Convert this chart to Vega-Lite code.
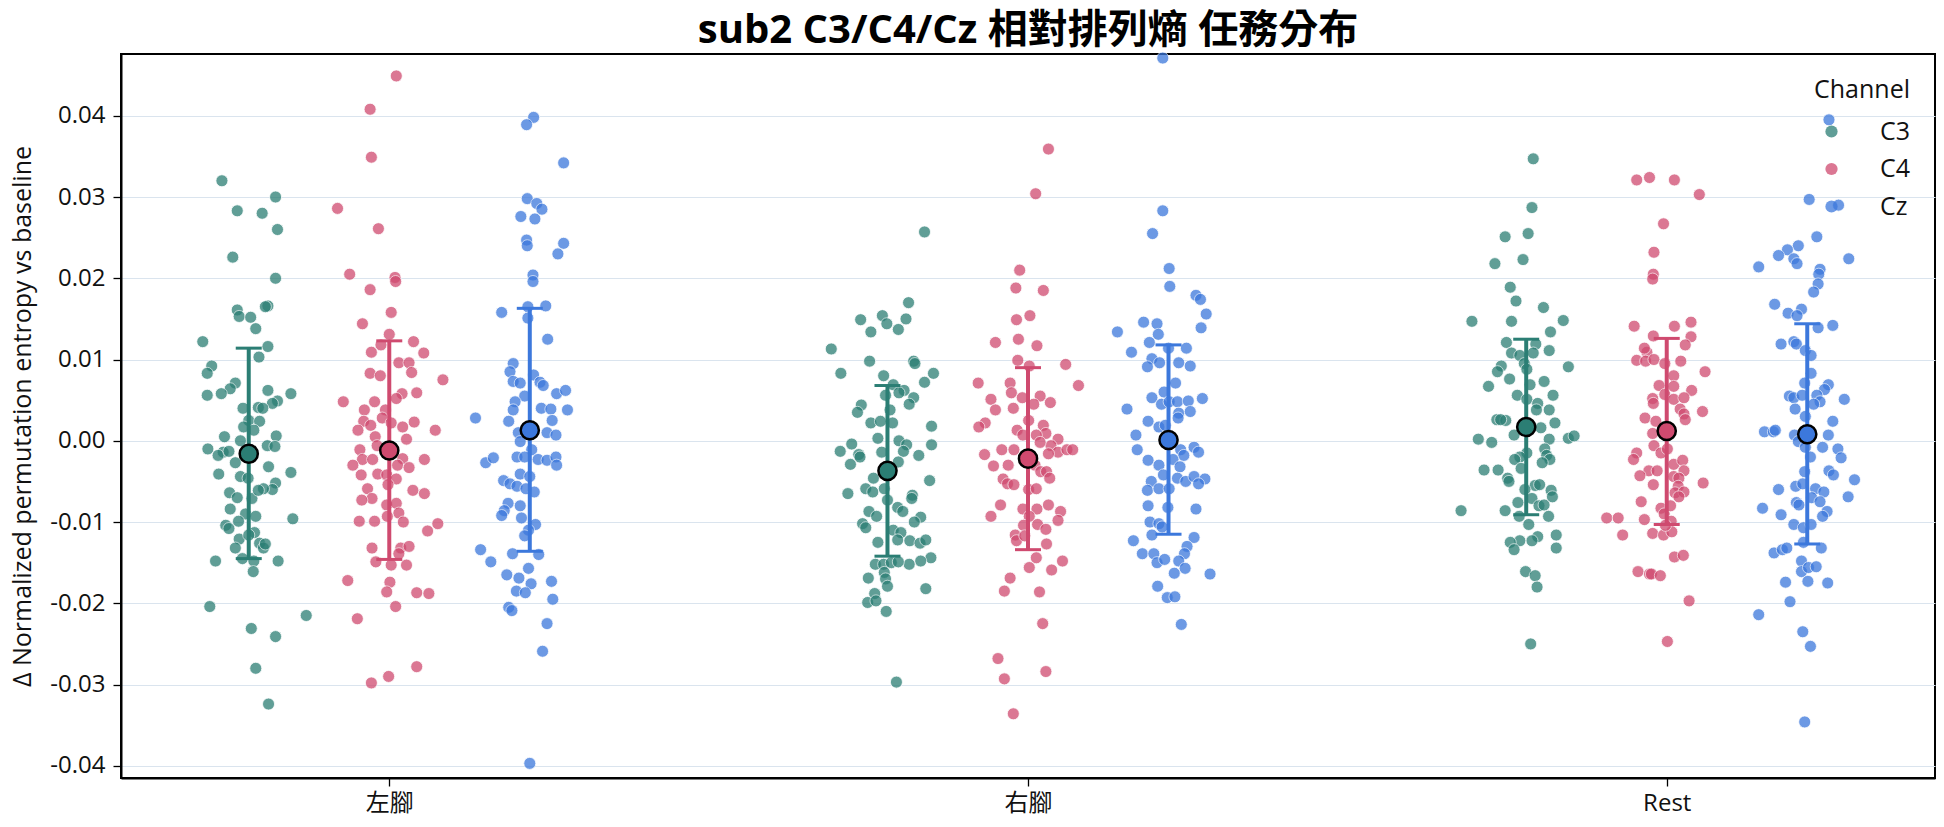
{
  "$schema": "https://vega.github.io/schema/vega-lite/v6.json",
  "autosize": {"type": "none"},
  "padding": {"left": 121, "top": 54, "right": 9, "bottom": 49},
  "width": 1814,
  "height": 724,
  "background": "white",
  "title": {
    "text": "sub2 C3/C4/Cz 相對排列熵 任務分布",
    "fontSize": 40,
    "fontWeight": "bold",
    "font": "Open Sans, Noto Sans CJK TC, sans-serif",
    "color": "#000000",
    "anchor": "middle",
    "frame": "group",
    "offset": 10,
    "dy": 11
  },
  "datasets": {
    "points": [
      {"task":"左腳","channel":"C3","value":0.0320,"jitter":-0.042},{"task":"左腳","channel":"C3","value":0.0283,"jitter":-0.018},{"task":"左腳","channel":"C3","value":0.0280,"jitter":0.021},{"task":"左腳","channel":"C3","value":0.0300,"jitter":0.042},{"task":"左腳","channel":"C3","value":0.0260,"jitter":0.045},{"task":"左腳","channel":"C3","value":0.0226,"jitter":-0.025},{"task":"左腳","channel":"C3","value":0.0200,"jitter":0.042},{"task":"左腳","channel":"C3","value":0.0166,"jitter":0.030},{"task":"左腳","channel":"C3","value":0.0165,"jitter":0.026},{"task":"左腳","channel":"C3","value":0.0161,"jitter":-0.018},{"task":"左腳","channel":"C3","value":0.0153,"jitter":-0.015},{"task":"左腳","channel":"C3","value":0.0152,"jitter":0.003},{"task":"左腳","channel":"C3","value":0.0138,"jitter":0.011},{"task":"左腳","channel":"C3","value":0.0122,"jitter":-0.072},{"task":"左腳","channel":"C3","value":0.0116,"jitter":0.030},{"task":"左腳","channel":"C3","value":0.0103,"jitter":0.016},{"task":"左腳","channel":"C3","value":0.0092,"jitter":-0.058},{"task":"左腳","channel":"C3","value":0.0083,"jitter":-0.065},{"task":"左腳","channel":"C3","value":0.0071,"jitter":-0.021},{"task":"左腳","channel":"C3","value":0.0064,"jitter":-0.029},{"task":"左腳","channel":"C3","value":0.0056,"jitter":-0.065},{"task":"左腳","channel":"C3","value":0.0058,"jitter":-0.043},{"task":"左腳","channel":"C3","value":0.0062,"jitter":0.030},{"task":"左腳","channel":"C3","value":0.0058,"jitter":0.066},{"task":"左腳","channel":"C3","value":0.0049,"jitter":0.045},{"task":"左腳","channel":"C3","value":0.0046,"jitter":0.037},{"task":"左腳","channel":"C3","value":0.0040,"jitter":-0.009},{"task":"左腳","channel":"C3","value":0.0041,"jitter":0.015},{"task":"左腳","channel":"C3","value":0.0040,"jitter":0.022},{"task":"左腳","channel":"C3","value":0.0025,"jitter":0.000},{"task":"左腳","channel":"C3","value":0.0024,"jitter":0.017},{"task":"左腳","channel":"C3","value":0.0017,"jitter":-0.008},{"task":"左腳","channel":"C3","value":0.0013,"jitter":0.008},{"task":"左腳","channel":"C3","value":0.0005,"jitter":-0.038},{"task":"左腳","channel":"C3","value":0.0000,"jitter":-0.013},{"task":"左腳","channel":"C3","value":0.0006,"jitter":0.043},{"task":"左腳","channel":"C3","value":-0.0010,"jitter":-0.064},{"task":"左腳","channel":"C3","value":-0.0014,"jitter":-0.040},{"task":"左腳","channel":"C3","value":-0.0018,"jitter":-0.048},{"task":"左腳","channel":"C3","value":-0.0013,"jitter":-0.031},{"task":"左腳","channel":"C3","value":-0.0006,"jitter":0.029},{"task":"左腳","channel":"C3","value":-0.0007,"jitter":0.041},{"task":"左腳","channel":"C3","value":-0.0027,"jitter":-0.021},{"task":"左腳","channel":"C3","value":-0.0032,"jitter":0.031},{"task":"左腳","channel":"C3","value":-0.0039,"jitter":0.066},{"task":"左腳","channel":"C3","value":-0.0041,"jitter":-0.047},{"task":"左腳","channel":"C3","value":-0.0044,"jitter":-0.013},{"task":"左腳","channel":"C3","value":-0.0046,"jitter":-0.001},{"task":"左腳","channel":"C3","value":-0.0052,"jitter":0.042},{"task":"左腳","channel":"C3","value":-0.0060,"jitter":0.037},{"task":"左腳","channel":"C3","value":-0.0059,"jitter":0.023},{"task":"左腳","channel":"C3","value":-0.0064,"jitter":-0.030},{"task":"左腳","channel":"C3","value":-0.0070,"jitter":-0.018},{"task":"左腳","channel":"C3","value":-0.0071,"jitter":0.005},{"task":"左腳","channel":"C3","value":-0.0061,"jitter":0.015},{"task":"左腳","channel":"C3","value":-0.0084,"jitter":-0.029},{"task":"左腳","channel":"C3","value":-0.0090,"jitter":-0.005},{"task":"左腳","channel":"C3","value":-0.0093,"jitter":0.011},{"task":"左腳","channel":"C3","value":-0.0099,"jitter":-0.016},{"task":"左腳","channel":"C3","value":-0.0096,"jitter":0.069},{"task":"左腳","channel":"C3","value":-0.0104,"jitter":-0.036},{"task":"左腳","channel":"C3","value":-0.0108,"jitter":-0.031},{"task":"左腳","channel":"C3","value":-0.0121,"jitter":-0.015},{"task":"左腳","channel":"C3","value":-0.0113,"jitter":0.009},{"task":"左腳","channel":"C3","value":-0.0132,"jitter":-0.021},{"task":"左腳","channel":"C3","value":-0.0126,"jitter":0.017},{"task":"左腳","channel":"C3","value":-0.0132,"jitter":0.023},{"task":"左腳","channel":"C3","value":-0.0148,"jitter":-0.052},{"task":"左腳","channel":"C3","value":-0.0145,"jitter":-0.010},{"task":"左腳","channel":"C3","value":-0.0148,"jitter":0.008},{"task":"左腳","channel":"C3","value":-0.0148,"jitter":0.046},{"task":"左腳","channel":"C3","value":-0.0161,"jitter":0.007},{"task":"左腳","channel":"C3","value":-0.0204,"jitter":-0.061},{"task":"左腳","channel":"C3","value":-0.0215,"jitter":0.090},{"task":"左腳","channel":"C3","value":-0.0231,"jitter":0.004},{"task":"左腳","channel":"C3","value":-0.0241,"jitter":0.042},{"task":"左腳","channel":"C3","value":-0.0280,"jitter":0.011},{"task":"左腳","channel":"C3","value":-0.0324,"jitter":0.031},{"task":"左腳","channel":"C3","value":-0.0116,"jitter":0.000},{"task":"左腳","channel":"C3","value":-0.0018,"jitter":0.004},{"task":"左腳","channel":"C3","value":-0.0127,"jitter":0.026},
      {"task":"左腳","channel":"C4","value":0.0449,"jitter":0.011},{"task":"左腳","channel":"C4","value":0.0408,"jitter":-0.030},{"task":"左腳","channel":"C4","value":0.0349,"jitter":-0.028},{"task":"左腳","channel":"C4","value":0.0286,"jitter":-0.081},{"task":"左腳","channel":"C4","value":0.0261,"jitter":-0.017},{"task":"左腳","channel":"C4","value":0.0205,"jitter":-0.062},{"task":"左腳","channel":"C4","value":0.0201,"jitter":0.009},{"task":"左腳","channel":"C4","value":0.0196,"jitter":0.010},{"task":"左腳","channel":"C4","value":0.0186,"jitter":-0.030},{"task":"左腳","channel":"C4","value":0.0158,"jitter":0.003},{"task":"左腳","channel":"C4","value":0.0144,"jitter":-0.042},{"task":"左腳","channel":"C4","value":0.0131,"jitter":0.000},{"task":"左腳","channel":"C4","value":0.0118,"jitter":-0.013},{"task":"左腳","channel":"C4","value":0.0122,"jitter":0.038},{"task":"左腳","channel":"C4","value":0.0108,"jitter":0.054},{"task":"左腳","channel":"C4","value":0.0109,"jitter":-0.028},{"task":"左腳","channel":"C4","value":0.0096,"jitter":0.015},{"task":"左腳","channel":"C4","value":0.0096,"jitter":0.031},{"task":"左腳","channel":"C4","value":0.0083,"jitter":-0.030},{"task":"左腳","channel":"C4","value":0.0080,"jitter":-0.014},{"task":"左腳","channel":"C4","value":0.0084,"jitter":0.035},{"task":"左腳","channel":"C4","value":0.0075,"jitter":0.084},{"task":"左腳","channel":"C4","value":0.0058,"jitter":0.020},{"task":"左腳","channel":"C4","value":0.0059,"jitter":0.043},{"task":"左腳","channel":"C4","value":0.0048,"jitter":-0.023},{"task":"左腳","channel":"C4","value":0.0048,"jitter":-0.072},{"task":"左腳","channel":"C4","value":0.0052,"jitter":0.011},{"task":"左腳","channel":"C4","value":0.0038,"jitter":-0.039},{"task":"左腳","channel":"C4","value":0.0038,"jitter":-0.006},{"task":"左腳","channel":"C4","value":0.0024,"jitter":-0.040},{"task":"左腳","channel":"C4","value":0.0028,"jitter":-0.011},{"task":"左腳","channel":"C4","value":0.0022,"jitter":0.003},{"task":"左腳","channel":"C4","value":0.0017,"jitter":0.021},{"task":"左腳","channel":"C4","value":0.0023,"jitter":0.039},{"task":"左腳","channel":"C4","value":0.0013,"jitter":-0.049},{"task":"左腳","channel":"C4","value":0.0019,"jitter":-0.029},{"task":"左腳","channel":"C4","value":0.0013,"jitter":0.072},{"task":"左腳","channel":"C4","value":0.0005,"jitter":-0.022},{"task":"左腳","channel":"C4","value":0.0002,"jitter":0.027},{"task":"左腳","channel":"C4","value":-0.0006,"jitter":-0.019},{"task":"左腳","channel":"C4","value":-0.0011,"jitter":-0.046},{"task":"左腳","channel":"C4","value":-0.0023,"jitter":-0.042},{"task":"左腳","channel":"C4","value":-0.0023,"jitter":-0.026},{"task":"左腳","channel":"C4","value":-0.0030,"jitter":-0.057},{"task":"左腳","channel":"C4","value":-0.0022,"jitter":0.021},{"task":"左腳","channel":"C4","value":-0.0023,"jitter":0.055},{"task":"左腳","channel":"C4","value":-0.0030,"jitter":0.013},{"task":"左腳","channel":"C4","value":-0.0033,"jitter":0.031},{"task":"左腳","channel":"C4","value":-0.0042,"jitter":-0.044},{"task":"左腳","channel":"C4","value":-0.0041,"jitter":-0.018},{"task":"左腳","channel":"C4","value":-0.0042,"jitter":-0.004},{"task":"左腳","channel":"C4","value":-0.0047,"jitter":0.011},{"task":"左腳","channel":"C4","value":-0.0054,"jitter":-0.002},{"task":"左腳","channel":"C4","value":-0.0059,"jitter":-0.034},{"task":"左腳","channel":"C4","value":-0.0061,"jitter":0.037},{"task":"左腳","channel":"C4","value":-0.0065,"jitter":0.055},{"task":"左腳","channel":"C4","value":-0.0071,"jitter":-0.027},{"task":"左腳","channel":"C4","value":-0.0073,"jitter":-0.043},{"task":"左腳","channel":"C4","value":-0.0079,"jitter":-0.004},{"task":"左腳","channel":"C4","value":-0.0077,"jitter":0.011},{"task":"左腳","channel":"C4","value":-0.0089,"jitter":0.015},{"task":"左腳","channel":"C4","value":-0.0093,"jitter":-0.003},{"task":"左腳","channel":"C4","value":-0.0099,"jitter":-0.047},{"task":"左腳","channel":"C4","value":-0.0099,"jitter":-0.023},{"task":"左腳","channel":"C4","value":-0.0100,"jitter":0.022},{"task":"左腳","channel":"C4","value":-0.0102,"jitter":0.076},{"task":"左腳","channel":"C4","value":-0.0111,"jitter":0.060},{"task":"左腳","channel":"C4","value":-0.0132,"jitter":-0.027},{"task":"左腳","channel":"C4","value":-0.0132,"jitter":0.018},{"task":"左腳","channel":"C4","value":-0.0130,"jitter":0.031},{"task":"左腳","channel":"C4","value":-0.0149,"jitter":-0.021},{"task":"左腳","channel":"C4","value":-0.0153,"jitter":0.003},{"task":"左腳","channel":"C4","value":-0.0153,"jitter":0.027},{"task":"左腳","channel":"C4","value":-0.0139,"jitter":0.015},{"task":"左腳","channel":"C4","value":-0.0172,"jitter":-0.065},{"task":"左腳","channel":"C4","value":-0.0174,"jitter":0.001},{"task":"左腳","channel":"C4","value":-0.0186,"jitter":-0.004},{"task":"左腳","channel":"C4","value":-0.0187,"jitter":0.043},{"task":"左腳","channel":"C4","value":-0.0188,"jitter":0.062},{"task":"左腳","channel":"C4","value":-0.0204,"jitter":0.010},{"task":"左腳","channel":"C4","value":-0.0219,"jitter":-0.050},{"task":"左腳","channel":"C4","value":-0.0278,"jitter":0.043},{"task":"左腳","channel":"C4","value":-0.0290,"jitter":-0.001},{"task":"左腳","channel":"C4","value":-0.0298,"jitter":-0.028},
      {"task":"左腳","channel":"Cz","value":0.0398,"jitter":0.006},{"task":"左腳","channel":"Cz","value":0.0389,"jitter":-0.005},{"task":"左腳","channel":"Cz","value":0.0342,"jitter":0.053},{"task":"左腳","channel":"Cz","value":0.0298,"jitter":-0.004},{"task":"左腳","channel":"Cz","value":0.0292,"jitter":0.011},{"task":"左腳","channel":"Cz","value":0.0285,"jitter":0.019},{"task":"左腳","channel":"Cz","value":0.0276,"jitter":-0.014},{"task":"左腳","channel":"Cz","value":0.0273,"jitter":0.008},{"task":"左腳","channel":"Cz","value":0.0247,"jitter":-0.005},{"task":"左腳","channel":"Cz","value":0.0240,"jitter":-0.004},{"task":"左腳","channel":"Cz","value":0.0243,"jitter":0.053},{"task":"左腳","channel":"Cz","value":0.0230,"jitter":0.044},{"task":"左腳","channel":"Cz","value":0.0204,"jitter":0.005},{"task":"左腳","channel":"Cz","value":0.0196,"jitter":0.005},{"task":"左腳","channel":"Cz","value":0.0165,"jitter":-0.003},{"task":"左腳","channel":"Cz","value":0.0166,"jitter":0.025},{"task":"左腳","channel":"Cz","value":0.0158,"jitter":-0.044},{"task":"左腳","channel":"Cz","value":0.0151,"jitter":-0.003},{"task":"左腳","channel":"Cz","value":0.0125,"jitter":0.028},{"task":"左腳","channel":"Cz","value":0.0095,"jitter":-0.026},{"task":"左腳","channel":"Cz","value":0.0085,"jitter":-0.031},{"task":"左腳","channel":"Cz","value":0.0073,"jitter":-0.026},{"task":"左腳","channel":"Cz","value":0.0071,"jitter":-0.015},{"task":"左腳","channel":"Cz","value":0.0081,"jitter":0.006},{"task":"左腳","channel":"Cz","value":0.0072,"jitter":0.016},{"task":"左腳","channel":"Cz","value":0.0068,"jitter":0.021},{"task":"左腳","channel":"Cz","value":0.0058,"jitter":0.042},{"task":"左腳","channel":"Cz","value":0.0062,"jitter":0.056},{"task":"左腳","channel":"Cz","value":0.0038,"jitter":0.059},{"task":"左腳","channel":"Cz","value":0.0055,"jitter":-0.008},{"task":"左腳","channel":"Cz","value":0.0048,"jitter":-0.023},{"task":"左腳","channel":"Cz","value":0.0038,"jitter":-0.026},{"task":"左腳","channel":"Cz","value":0.0024,"jitter":-0.033},{"task":"左腳","channel":"Cz","value":0.0040,"jitter":0.018},{"task":"左腳","channel":"Cz","value":0.0039,"jitter":0.033},{"task":"左腳","channel":"Cz","value":0.0025,"jitter":0.035},{"task":"左腳","channel":"Cz","value":0.0028,"jitter":-0.085},{"task":"左腳","channel":"Cz","value":0.0010,"jitter":-0.018},{"task":"左腳","channel":"Cz","value":0.0010,"jitter":0.027},{"task":"左腳","channel":"Cz","value":0.0007,"jitter":0.041},{"task":"左腳","channel":"Cz","value":-0.0001,"jitter":-0.015},{"task":"左腳","channel":"Cz","value":-0.0011,"jitter":0.003},{"task":"左腳","channel":"Cz","value":-0.0020,"jitter":-0.020},{"task":"左腳","channel":"Cz","value":-0.0020,"jitter":-0.008},{"task":"左腳","channel":"Cz","value":-0.0023,"jitter":0.013},{"task":"左腳","channel":"Cz","value":-0.0024,"jitter":0.027},{"task":"左腳","channel":"Cz","value":-0.0020,"jitter":0.041},{"task":"左腳","channel":"Cz","value":-0.0030,"jitter":0.042},{"task":"左腳","channel":"Cz","value":-0.0027,"jitter":-0.069},{"task":"左腳","channel":"Cz","value":-0.0021,"jitter":-0.057},{"task":"左腳","channel":"Cz","value":-0.0041,"jitter":-0.015},{"task":"左腳","channel":"Cz","value":-0.0044,"jitter":0.000},{"task":"左腳","channel":"Cz","value":-0.0049,"jitter":-0.041},{"task":"左腳","channel":"Cz","value":-0.0053,"jitter":-0.031},{"task":"左腳","channel":"Cz","value":-0.0056,"jitter":-0.020},{"task":"左腳","channel":"Cz","value":-0.0059,"jitter":-0.006},{"task":"左腳","channel":"Cz","value":-0.0063,"jitter":0.007},{"task":"左腳","channel":"Cz","value":-0.0080,"jitter":-0.015},{"task":"左腳","channel":"Cz","value":-0.0077,"jitter":-0.034},{"task":"左腳","channel":"Cz","value":-0.0086,"jitter":-0.040},{"task":"左腳","channel":"Cz","value":-0.0092,"jitter":-0.044},{"task":"左腳","channel":"Cz","value":-0.0095,"jitter":-0.013},{"task":"左腳","channel":"Cz","value":-0.0103,"jitter":0.009},{"task":"左腳","channel":"Cz","value":-0.0110,"jitter":-0.002},{"task":"左腳","channel":"Cz","value":-0.0117,"jitter":-0.008},{"task":"左腳","channel":"Cz","value":-0.0134,"jitter":-0.077},{"task":"左腳","channel":"Cz","value":-0.0149,"jitter":-0.061},{"task":"左腳","channel":"Cz","value":-0.0139,"jitter":-0.027},{"task":"左腳","channel":"Cz","value":-0.0140,"jitter":0.014},{"task":"左腳","channel":"Cz","value":-0.0165,"jitter":-0.036},{"task":"左腳","channel":"Cz","value":-0.0169,"jitter":-0.017},{"task":"左腳","channel":"Cz","value":-0.0157,"jitter":-0.002},{"task":"左腳","channel":"Cz","value":-0.0176,"jitter":0.002},{"task":"左腳","channel":"Cz","value":-0.0173,"jitter":0.034},{"task":"左腳","channel":"Cz","value":-0.0185,"jitter":-0.021},{"task":"左腳","channel":"Cz","value":-0.0187,"jitter":-0.007},{"task":"左腳","channel":"Cz","value":-0.0195,"jitter":0.036},{"task":"左腳","channel":"Cz","value":-0.0205,"jitter":-0.033},{"task":"左腳","channel":"Cz","value":-0.0209,"jitter":-0.028},{"task":"左腳","channel":"Cz","value":-0.0225,"jitter":0.027},{"task":"左腳","channel":"Cz","value":-0.0259,"jitter":0.020},{"task":"左腳","channel":"Cz","value":-0.0397,"jitter":0.000},
      {"task":"右腳","channel":"C3","value":0.0257,"jitter":0.058},{"task":"右腳","channel":"C3","value":0.0170,"jitter":0.033},{"task":"右腳","channel":"C3","value":0.0149,"jitter":-0.042},{"task":"右腳","channel":"C3","value":0.0154,"jitter":-0.008},{"task":"右腳","channel":"C3","value":0.0144,"jitter":-0.001},{"task":"右腳","channel":"C3","value":0.0150,"jitter":0.029},{"task":"右腳","channel":"C3","value":0.0134,"jitter":-0.026},{"task":"右腳","channel":"C3","value":0.0137,"jitter":0.017},{"task":"右腳","channel":"C3","value":0.0113,"jitter":-0.088},{"task":"右腳","channel":"C3","value":0.0098,"jitter":-0.028},{"task":"右腳","channel":"C3","value":0.0098,"jitter":0.041},{"task":"右腳","channel":"C3","value":0.0095,"jitter":0.043},{"task":"右腳","channel":"C3","value":0.0083,"jitter":-0.073},{"task":"右腳","channel":"C3","value":0.0083,"jitter":0.072},{"task":"右腳","channel":"C3","value":0.0072,"jitter":0.058},{"task":"右腳","channel":"C3","value":0.0080,"jitter":-0.006},{"task":"右腳","channel":"C3","value":0.0069,"jitter":0.009},{"task":"右腳","channel":"C3","value":0.0062,"jitter":0.026},{"task":"右腳","channel":"C3","value":0.0059,"jitter":0.018},{"task":"右腳","channel":"C3","value":0.0053,"jitter":0.041},{"task":"右腳","channel":"C3","value":0.0056,"jitter":-0.003},{"task":"右腳","channel":"C3","value":0.0045,"jitter":0.034},{"task":"右腳","channel":"C3","value":0.0044,"jitter":-0.041},{"task":"右腳","channel":"C3","value":0.0035,"jitter":-0.047},{"task":"右腳","channel":"C3","value":0.0038,"jitter":0.004},{"task":"右腳","channel":"C3","value":0.0022,"jitter":-0.026},{"task":"右腳","channel":"C3","value":0.0024,"jitter":-0.011},{"task":"右腳","channel":"C3","value":0.0022,"jitter":0.008},{"task":"右腳","channel":"C3","value":0.0018,"jitter":0.069},{"task":"右腳","channel":"C3","value":0.0003,"jitter":-0.015},{"task":"右腳","channel":"C3","value":0.0000,"jitter":0.018},{"task":"右腳","channel":"C3","value":-0.0005,"jitter":0.069},{"task":"右腳","channel":"C3","value":-0.0004,"jitter":-0.056},{"task":"右腳","channel":"C3","value":-0.0013,"jitter":-0.074},{"task":"右腳","channel":"C3","value":-0.0017,"jitter":-0.045},{"task":"右腳","channel":"C3","value":-0.0005,"jitter":0.030},{"task":"右腳","channel":"C3","value":-0.0013,"jitter":0.025},{"task":"右腳","channel":"C3","value":-0.0029,"jitter":-0.058},{"task":"右腳","channel":"C3","value":-0.0020,"jitter":-0.043},{"task":"右腳","channel":"C3","value":-0.0014,"jitter":-0.009},{"task":"右腳","channel":"C3","value":-0.0018,"jitter":0.049},{"task":"右腳","channel":"C3","value":-0.0026,"jitter":0.017},{"task":"右腳","channel":"C3","value":-0.0046,"jitter":-0.022},{"task":"右腳","channel":"C3","value":-0.0049,"jitter":0.066},{"task":"右腳","channel":"C3","value":-0.0059,"jitter":-0.034},{"task":"右腳","channel":"C3","value":-0.0063,"jitter":-0.023},{"task":"右腳","channel":"C3","value":-0.0059,"jitter":-0.005},{"task":"右腳","channel":"C3","value":-0.0065,"jitter":-0.062},{"task":"右腳","channel":"C3","value":-0.0067,"jitter":0.039},{"task":"右腳","channel":"C3","value":-0.0071,"jitter":0.038},{"task":"右腳","channel":"C3","value":-0.0073,"jitter":0.000},{"task":"右腳","channel":"C3","value":-0.0082,"jitter":0.016},{"task":"右腳","channel":"C3","value":-0.0087,"jitter":0.024},{"task":"右腳","channel":"C3","value":-0.0087,"jitter":-0.029},{"task":"右腳","channel":"C3","value":-0.0093,"jitter":-0.017},{"task":"右腳","channel":"C3","value":-0.0094,"jitter":0.052},{"task":"右腳","channel":"C3","value":-0.0100,"jitter":0.042},{"task":"右腳","channel":"C3","value":-0.0102,"jitter":-0.039},{"task":"右腳","channel":"C3","value":-0.0107,"jitter":-0.034},{"task":"右腳","channel":"C3","value":-0.0110,"jitter":0.009},{"task":"右腳","channel":"C3","value":-0.0113,"jitter":0.021},{"task":"右腳","channel":"C3","value":-0.0122,"jitter":0.016},{"task":"右腳","channel":"C3","value":-0.0125,"jitter":-0.015},{"task":"右腳","channel":"C3","value":-0.0123,"jitter":0.035},{"task":"右腳","channel":"C3","value":-0.0126,"jitter":0.051},{"task":"右腳","channel":"C3","value":-0.0122,"jitter":0.060},{"task":"右腳","channel":"C3","value":-0.0144,"jitter":0.068},{"task":"右腳","channel":"C3","value":-0.0148,"jitter":0.052},{"task":"右腳","channel":"C3","value":-0.0152,"jitter":0.034},{"task":"右腳","channel":"C3","value":-0.0152,"jitter":-0.019},{"task":"右腳","channel":"C3","value":-0.0152,"jitter":-0.006},{"task":"右腳","channel":"C3","value":-0.0150,"jitter":0.006},{"task":"右腳","channel":"C3","value":-0.0149,"jitter":0.017},{"task":"右腳","channel":"C3","value":-0.0162,"jitter":-0.005},{"task":"右腳","channel":"C3","value":-0.0170,"jitter":-0.003},{"task":"右腳","channel":"C3","value":-0.0179,"jitter":0.000},{"task":"右腳","channel":"C3","value":-0.0169,"jitter":-0.030},{"task":"右腳","channel":"C3","value":-0.0182,"jitter":0.060},{"task":"右腳","channel":"C3","value":-0.0188,"jitter":-0.020},{"task":"右腳","channel":"C3","value":-0.0199,"jitter":-0.031},{"task":"右腳","channel":"C3","value":-0.0197,"jitter":-0.018},{"task":"右腳","channel":"C3","value":-0.0210,"jitter":-0.002},{"task":"右腳","channel":"C3","value":-0.0297,"jitter":0.014},
      {"task":"右腳","channel":"C4","value":0.0359,"jitter":0.032},{"task":"右腳","channel":"C4","value":0.0304,"jitter":0.012},{"task":"右腳","channel":"C4","value":0.0210,"jitter":-0.013},{"task":"右腳","channel":"C4","value":0.0188,"jitter":-0.019},{"task":"右腳","channel":"C4","value":0.0185,"jitter":0.024},{"task":"右腳","channel":"C4","value":0.0149,"jitter":-0.018},{"task":"右腳","channel":"C4","value":0.0154,"jitter":0.003},{"task":"右腳","channel":"C4","value":0.0121,"jitter":-0.051},{"task":"右腳","channel":"C4","value":0.0125,"jitter":-0.015},{"task":"右腳","channel":"C4","value":0.0117,"jitter":0.014},{"task":"右腳","channel":"C4","value":0.0099,"jitter":-0.016},{"task":"右腳","channel":"C4","value":0.0092,"jitter":0.002},{"task":"右腳","channel":"C4","value":0.0094,"jitter":0.059},{"task":"右腳","channel":"C4","value":0.0071,"jitter":-0.078},{"task":"右腳","channel":"C4","value":0.0068,"jitter":0.079},{"task":"右腳","channel":"C4","value":0.0071,"jitter":-0.028},{"task":"右腳","channel":"C4","value":0.0059,"jitter":-0.026},{"task":"右腳","channel":"C4","value":0.0053,"jitter":-0.009},{"task":"右腳","channel":"C4","value":0.0055,"jitter":0.019},{"task":"右腳","channel":"C4","value":0.0047,"jitter":0.035},{"task":"右腳","channel":"C4","value":0.0051,"jitter":-0.058},{"task":"右腳","channel":"C4","value":0.0038,"jitter":-0.051},{"task":"右腳","channel":"C4","value":0.0040,"jitter":-0.023},{"task":"右腳","channel":"C4","value":0.0045,"jitter":0.009},{"task":"右腳","channel":"C4","value":0.0022,"jitter":-0.067},{"task":"右腳","channel":"C4","value":0.0017,"jitter":-0.077},{"task":"右腳","channel":"C4","value":0.0025,"jitter":0.001},{"task":"右腳","channel":"C4","value":0.0013,"jitter":-0.017},{"task":"右腳","channel":"C4","value":0.0019,"jitter":0.024},{"task":"右腳","channel":"C4","value":0.0009,"jitter":0.028},{"task":"右腳","channel":"C4","value":0.0007,"jitter":0.013},{"task":"右腳","channel":"C4","value":0.0002,"jitter":0.047},{"task":"右腳","channel":"C4","value":0.0007,"jitter":-0.008},{"task":"右腳","channel":"C4","value":-0.0006,"jitter":0.036},{"task":"右腳","channel":"C4","value":-0.0002,"jitter":0.019},{"task":"右腳","channel":"C4","value":-0.0017,"jitter":-0.068},{"task":"右腳","channel":"C4","value":-0.0011,"jitter":-0.041},{"task":"右腳","channel":"C4","value":-0.0011,"jitter":-0.022},{"task":"右腳","channel":"C4","value":-0.0014,"jitter":0.047},{"task":"右腳","channel":"C4","value":-0.0011,"jitter":0.061},{"task":"右腳","channel":"C4","value":-0.0011,"jitter":0.070},{"task":"右腳","channel":"C4","value":-0.0016,"jitter":0.032},{"task":"右腳","channel":"C4","value":-0.0031,"jitter":-0.054},{"task":"右腳","channel":"C4","value":-0.0030,"jitter":-0.031},{"task":"右腳","channel":"C4","value":-0.0030,"jitter":0.011},{"task":"右腳","channel":"C4","value":-0.0038,"jitter":0.020},{"task":"右腳","channel":"C4","value":-0.0038,"jitter":0.029},{"task":"右腳","channel":"C4","value":-0.0046,"jitter":0.034},{"task":"右腳","channel":"C4","value":-0.0047,"jitter":-0.039},{"task":"右腳","channel":"C4","value":-0.0053,"jitter":-0.032},{"task":"右腳","channel":"C4","value":-0.0054,"jitter":-0.022},{"task":"右腳","channel":"C4","value":-0.0060,"jitter":0.001},{"task":"右腳","channel":"C4","value":-0.0059,"jitter":0.013},{"task":"右腳","channel":"C4","value":-0.0079,"jitter":-0.043},{"task":"右腳","channel":"C4","value":-0.0093,"jitter":-0.058},{"task":"右腳","channel":"C4","value":-0.0084,"jitter":-0.008},{"task":"右腳","channel":"C4","value":-0.0084,"jitter":0.014},{"task":"右腳","channel":"C4","value":-0.0079,"jitter":0.032},{"task":"右腳","channel":"C4","value":-0.0087,"jitter":0.051},{"task":"右腳","channel":"C4","value":-0.0098,"jitter":0.047},{"task":"右腳","channel":"C4","value":-0.0093,"jitter":0.002},{"task":"右腳","channel":"C4","value":-0.0103,"jitter":0.015},{"task":"右腳","channel":"C4","value":-0.0109,"jitter":0.028},{"task":"右腳","channel":"C4","value":-0.0104,"jitter":-0.007},{"task":"右腳","channel":"C4","value":-0.0116,"jitter":-0.020},{"task":"右腳","channel":"C4","value":-0.0123,"jitter":-0.018},{"task":"右腳","channel":"C4","value":-0.0117,"jitter":-0.005},{"task":"右腳","channel":"C4","value":-0.0127,"jitter":0.029},{"task":"右腳","channel":"C4","value":-0.0144,"jitter":0.013},{"task":"右腳","channel":"C4","value":-0.0148,"jitter":0.054},{"task":"右腳","channel":"C4","value":-0.0156,"jitter":0.002},{"task":"右腳","channel":"C4","value":-0.0159,"jitter":0.037},{"task":"右腳","channel":"C4","value":-0.0169,"jitter":-0.028},{"task":"右腳","channel":"C4","value":-0.0185,"jitter":-0.037},{"task":"右腳","channel":"C4","value":-0.0186,"jitter":0.018},{"task":"右腳","channel":"C4","value":-0.0225,"jitter":0.023},{"task":"右腳","channel":"C4","value":-0.0268,"jitter":-0.047},{"task":"右腳","channel":"C4","value":-0.0284,"jitter":0.028},{"task":"右腳","channel":"C4","value":-0.0293,"jitter":-0.037},{"task":"右腳","channel":"C4","value":-0.0336,"jitter":-0.023},
      {"task":"右腳","channel":"Cz","value":0.0471,"jitter":-0.009},{"task":"右腳","channel":"Cz","value":0.0283,"jitter":-0.009},{"task":"右腳","channel":"Cz","value":0.0255,"jitter":-0.025},{"task":"右腳","channel":"Cz","value":0.0212,"jitter":0.001},{"task":"右腳","channel":"Cz","value":0.0190,"jitter":0.002},{"task":"右腳","channel":"Cz","value":0.0179,"jitter":0.043},{"task":"右腳","channel":"Cz","value":0.0174,"jitter":0.050},{"task":"右腳","channel":"Cz","value":0.0156,"jitter":0.059},{"task":"右腳","channel":"Cz","value":0.0139,"jitter":0.051},{"task":"右腳","channel":"Cz","value":0.0134,"jitter":-0.080},{"task":"右腳","channel":"Cz","value":0.0146,"jitter":-0.039},{"task":"右腳","channel":"Cz","value":0.0144,"jitter":-0.018},{"task":"右腳","channel":"Cz","value":0.0131,"jitter":-0.016},{"task":"右腳","channel":"Cz","value":0.0121,"jitter":-0.030},{"task":"右腳","channel":"Cz","value":0.0109,"jitter":-0.058},{"task":"右腳","channel":"Cz","value":0.0114,"jitter":0.000},{"task":"右腳","channel":"Cz","value":0.0114,"jitter":0.028},{"task":"右腳","channel":"Cz","value":0.0101,"jitter":-0.026},{"task":"右腳","channel":"Cz","value":0.0091,"jitter":-0.033},{"task":"右腳","channel":"Cz","value":0.0096,"jitter":-0.014},{"task":"右腳","channel":"Cz","value":0.0096,"jitter":0.016},{"task":"右腳","channel":"Cz","value":0.0092,"jitter":0.034},{"task":"右腳","channel":"Cz","value":0.0071,"jitter":0.011},{"task":"右腳","channel":"Cz","value":0.0060,"jitter":-0.007},{"task":"右腳","channel":"Cz","value":0.0053,"jitter":-0.026},{"task":"右腳","channel":"Cz","value":0.0045,"jitter":-0.011},{"task":"右腳","channel":"Cz","value":0.0048,"jitter":0.001},{"task":"右腳","channel":"Cz","value":0.0048,"jitter":0.014},{"task":"右腳","channel":"Cz","value":0.0049,"jitter":0.031},{"task":"右腳","channel":"Cz","value":0.0052,"jitter":0.053},{"task":"右腳","channel":"Cz","value":0.0039,"jitter":-0.065},{"task":"右腳","channel":"Cz","value":0.0034,"jitter":0.016},{"task":"右腳","channel":"Cz","value":0.0036,"jitter":0.034},{"task":"右腳","channel":"Cz","value":0.0028,"jitter":0.015},{"task":"右腳","channel":"Cz","value":0.0024,"jitter":-0.032},{"task":"右腳","channel":"Cz","value":0.0017,"jitter":-0.015},{"task":"右腳","channel":"Cz","value":0.0019,"jitter":-0.005},{"task":"右腳","channel":"Cz","value":0.0007,"jitter":-0.051},{"task":"右腳","channel":"Cz","value":-0.0011,"jitter":-0.049},{"task":"右腳","channel":"Cz","value":-0.0011,"jitter":0.019},{"task":"右腳","channel":"Cz","value":-0.0008,"jitter":0.040},{"task":"右腳","channel":"Cz","value":-0.0014,"jitter":0.047},{"task":"右腳","channel":"Cz","value":-0.0018,"jitter":0.024},{"task":"右腳","channel":"Cz","value":-0.0023,"jitter":0.007},{"task":"右腳","channel":"Cz","value":-0.0024,"jitter":-0.032},{"task":"右腳","channel":"Cz","value":-0.0032,"jitter":0.018},{"task":"右腳","channel":"Cz","value":-0.0030,"jitter":-0.015},{"task":"右腳","channel":"Cz","value":-0.0042,"jitter":-0.008},{"task":"右腳","channel":"Cz","value":-0.0050,"jitter":-0.027},{"task":"右腳","channel":"Cz","value":-0.0046,"jitter":0.014},{"task":"右腳","channel":"Cz","value":-0.0050,"jitter":0.027},{"task":"右腳","channel":"Cz","value":-0.0044,"jitter":0.040},{"task":"右腳","channel":"Cz","value":-0.0047,"jitter":0.057},{"task":"右腳","channel":"Cz","value":-0.0053,"jitter":0.047},{"task":"右腳","channel":"Cz","value":-0.0061,"jitter":-0.033},{"task":"右腳","channel":"Cz","value":-0.0059,"jitter":-0.015},{"task":"右腳","channel":"Cz","value":-0.0059,"jitter":0.001},{"task":"右腳","channel":"Cz","value":-0.0080,"jitter":-0.032},{"task":"右腳","channel":"Cz","value":-0.0082,"jitter":-0.001},{"task":"右腳","channel":"Cz","value":-0.0084,"jitter":0.043},{"task":"右腳","channel":"Cz","value":-0.0100,"jitter":-0.029},{"task":"右腳","channel":"Cz","value":-0.0102,"jitter":-0.015},{"task":"右腳","channel":"Cz","value":-0.0106,"jitter":-0.010},{"task":"右腳","channel":"Cz","value":-0.0116,"jitter":-0.026},{"task":"右腳","channel":"Cz","value":-0.0123,"jitter":-0.055},{"task":"右腳","channel":"Cz","value":-0.0119,"jitter":0.040},{"task":"右腳","channel":"Cz","value":-0.0130,"jitter":0.029},{"task":"右腳","channel":"Cz","value":-0.0139,"jitter":-0.041},{"task":"右腳","channel":"Cz","value":-0.0139,"jitter":-0.023},{"task":"右腳","channel":"Cz","value":-0.0139,"jitter":0.025},{"task":"右腳","channel":"Cz","value":-0.0150,"jitter":-0.018},{"task":"右腳","channel":"Cz","value":-0.0146,"jitter":-0.006},{"task":"右腳","channel":"Cz","value":-0.0148,"jitter":0.016},{"task":"右腳","channel":"Cz","value":-0.0157,"jitter":0.026},{"task":"右腳","channel":"Cz","value":-0.0163,"jitter":0.009},{"task":"右腳","channel":"Cz","value":-0.0164,"jitter":0.065},{"task":"右腳","channel":"Cz","value":-0.0179,"jitter":-0.017},{"task":"右腳","channel":"Cz","value":-0.0193,"jitter":-0.002},{"task":"右腳","channel":"Cz","value":-0.0192,"jitter":0.010},{"task":"右腳","channel":"Cz","value":-0.0226,"jitter":0.020},
      {"task":"Rest","channel":"C3","value":0.0347,"jitter":0.011},{"task":"Rest","channel":"C3","value":0.0287,"jitter":0.009},{"task":"Rest","channel":"C3","value":0.0251,"jitter":-0.033},{"task":"Rest","channel":"C3","value":0.0255,"jitter":0.003},{"task":"Rest","channel":"C3","value":0.0223,"jitter":-0.005},{"task":"Rest","channel":"C3","value":0.0218,"jitter":-0.049},{"task":"Rest","channel":"C3","value":0.0189,"jitter":-0.025},{"task":"Rest","channel":"C3","value":0.0172,"jitter":-0.016},{"task":"Rest","channel":"C3","value":0.0164,"jitter":0.027},{"task":"Rest","channel":"C3","value":0.0147,"jitter":-0.085},{"task":"Rest","channel":"C3","value":0.0147,"jitter":-0.023},{"task":"Rest","channel":"C3","value":0.0148,"jitter":0.058},{"task":"Rest","channel":"C3","value":0.0134,"jitter":0.038},{"task":"Rest","channel":"C3","value":0.0121,"jitter":-0.031},{"task":"Rest","channel":"C3","value":0.0119,"jitter":0.015},{"task":"Rest","channel":"C3","value":0.0111,"jitter":0.036},{"task":"Rest","channel":"C3","value":0.0108,"jitter":-0.023},{"task":"Rest","channel":"C3","value":0.0105,"jitter":-0.010},{"task":"Rest","channel":"C3","value":0.0108,"jitter":0.011},{"task":"Rest","channel":"C3","value":0.0091,"jitter":0.066},{"task":"Rest","channel":"C3","value":0.0095,"jitter":-0.003},{"task":"Rest","channel":"C3","value":0.0088,"jitter":0.001},{"task":"Rest","channel":"C3","value":0.0092,"jitter":-0.039},{"task":"Rest","channel":"C3","value":0.0085,"jitter":-0.045},{"task":"Rest","channel":"C3","value":0.0076,"jitter":-0.026},{"task":"Rest","channel":"C3","value":0.0067,"jitter":-0.059},{"task":"Rest","channel":"C3","value":0.0069,"jitter":0.006},{"task":"Rest","channel":"C3","value":0.0073,"jitter":0.028},{"task":"Rest","channel":"C3","value":0.0056,"jitter":-0.014},{"task":"Rest","channel":"C3","value":0.0056,"jitter":0.042},{"task":"Rest","channel":"C3","value":0.0051,"jitter":0.001},{"task":"Rest","channel":"C3","value":0.0046,"jitter":0.018},{"task":"Rest","channel":"C3","value":0.0038,"jitter":0.016},{"task":"Rest","channel":"C3","value":0.0038,"jitter":0.036},{"task":"Rest","channel":"C3","value":0.0026,"jitter":-0.046},{"task":"Rest","channel":"C3","value":0.0025,"jitter":-0.032},{"task":"Rest","channel":"C3","value":0.0026,"jitter":-0.040},{"task":"Rest","channel":"C3","value":0.0022,"jitter":0.045},{"task":"Rest","channel":"C3","value":0.0007,"jitter":-0.019},{"task":"Rest","channel":"C3","value":0.0016,"jitter":0.023},{"task":"Rest","channel":"C3","value":0.0002,"jitter":-0.075},{"task":"Rest","channel":"C3","value":-0.0002,"jitter":-0.054},{"task":"Rest","channel":"C3","value":0.0002,"jitter":0.036},{"task":"Rest","channel":"C3","value":0.0003,"jitter":0.066},{"task":"Rest","channel":"C3","value":0.0006,"jitter":0.075},{"task":"Rest","channel":"C3","value":-0.0015,"jitter":0.001},{"task":"Rest","channel":"C3","value":-0.0020,"jitter":-0.010},{"task":"Rest","channel":"C3","value":-0.0023,"jitter":-0.018},{"task":"Rest","channel":"C3","value":-0.0010,"jitter":0.029},{"task":"Rest","channel":"C3","value":-0.0018,"jitter":0.032},{"task":"Rest","channel":"C3","value":-0.0023,"jitter":0.037},{"task":"Rest","channel":"C3","value":-0.0027,"jitter":0.025},{"task":"Rest","channel":"C3","value":-0.0036,"jitter":-0.066},{"task":"Rest","channel":"C3","value":-0.0036,"jitter":-0.044},{"task":"Rest","channel":"C3","value":-0.0034,"jitter":-0.008},{"task":"Rest","channel":"C3","value":-0.0046,"jitter":-0.029},{"task":"Rest","channel":"C3","value":-0.0050,"jitter":-0.027},{"task":"Rest","channel":"C3","value":-0.0055,"jitter":0.014},{"task":"Rest","channel":"C3","value":-0.0054,"jitter":0.021},{"task":"Rest","channel":"C3","value":-0.0060,"jitter":-0.002},{"task":"Rest","channel":"C3","value":-0.0061,"jitter":0.039},{"task":"Rest","channel":"C3","value":-0.0069,"jitter":0.041},{"task":"Rest","channel":"C3","value":-0.0071,"jitter":0.009},{"task":"Rest","channel":"C3","value":-0.0076,"jitter":-0.013},{"task":"Rest","channel":"C3","value":-0.0080,"jitter":0.020},{"task":"Rest","channel":"C3","value":-0.0079,"jitter":0.028},{"task":"Rest","channel":"C3","value":-0.0086,"jitter":-0.102},{"task":"Rest","channel":"C3","value":-0.0086,"jitter":-0.033},{"task":"Rest","channel":"C3","value":-0.0093,"jitter":-0.011},{"task":"Rest","channel":"C3","value":-0.0093,"jitter":0.035},{"task":"Rest","channel":"C3","value":-0.0103,"jitter":0.004},{"task":"Rest","channel":"C3","value":-0.0116,"jitter":0.047},{"task":"Rest","channel":"C3","value":-0.0118,"jitter":0.018},{"task":"Rest","channel":"C3","value":-0.0123,"jitter":0.009},{"task":"Rest","channel":"C3","value":-0.0123,"jitter":-0.010},{"task":"Rest","channel":"C3","value":-0.0125,"jitter":-0.025},{"task":"Rest","channel":"C3","value":-0.0134,"jitter":-0.019},{"task":"Rest","channel":"C3","value":-0.0132,"jitter":0.047},{"task":"Rest","channel":"C3","value":-0.0161,"jitter":-0.001},{"task":"Rest","channel":"C3","value":-0.0166,"jitter":0.014},{"task":"Rest","channel":"C3","value":-0.0180,"jitter":0.017},{"task":"Rest","channel":"C3","value":-0.0250,"jitter":0.007},
      {"task":"Rest","channel":"C4","value":0.0321,"jitter":-0.047},{"task":"Rest","channel":"C4","value":0.0324,"jitter":-0.027},{"task":"Rest","channel":"C4","value":0.0321,"jitter":0.012},{"task":"Rest","channel":"C4","value":0.0303,"jitter":0.051},{"task":"Rest","channel":"C4","value":0.0267,"jitter":-0.005},{"task":"Rest","channel":"C4","value":0.0232,"jitter":-0.020},{"task":"Rest","channel":"C4","value":0.0205,"jitter":-0.021},{"task":"Rest","channel":"C4","value":0.0199,"jitter":-0.022},{"task":"Rest","channel":"C4","value":0.0141,"jitter":-0.051},{"task":"Rest","channel":"C4","value":0.0141,"jitter":0.012},{"task":"Rest","channel":"C4","value":0.0146,"jitter":0.038},{"task":"Rest","channel":"C4","value":0.0129,"jitter":-0.021},{"task":"Rest","channel":"C4","value":0.0128,"jitter":0.038},{"task":"Rest","channel":"C4","value":0.0118,"jitter":0.029},{"task":"Rest","channel":"C4","value":0.0109,"jitter":-0.031},{"task":"Rest","channel":"C4","value":0.0099,"jitter":-0.047},{"task":"Rest","channel":"C4","value":0.0098,"jitter":-0.033},{"task":"Rest","channel":"C4","value":0.0100,"jitter":-0.020},{"task":"Rest","channel":"C4","value":0.0098,"jitter":0.022},{"task":"Rest","channel":"C4","value":0.0095,"jitter":-0.003},{"task":"Rest","channel":"C4","value":0.0085,"jitter":0.060},{"task":"Rest","channel":"C4","value":0.0080,"jitter":0.011},{"task":"Rest","channel":"C4","value":0.0068,"jitter":-0.012},{"task":"Rest","channel":"C4","value":0.0067,"jitter":0.011},{"task":"Rest","channel":"C4","value":0.0062,"jitter":0.039},{"task":"Rest","channel":"C4","value":0.0057,"jitter":-0.003},{"task":"Rest","channel":"C4","value":0.0052,"jitter":-0.022},{"task":"Rest","channel":"C4","value":0.0046,"jitter":-0.021},{"task":"Rest","channel":"C4","value":0.0051,"jitter":0.011},{"task":"Rest","channel":"C4","value":0.0053,"jitter":0.027},{"task":"Rest","channel":"C4","value":0.0039,"jitter":0.021},{"task":"Rest","channel":"C4","value":0.0033,"jitter":0.027},{"task":"Rest","channel":"C4","value":0.0026,"jitter":0.029},{"task":"Rest","channel":"C4","value":0.0036,"jitter":0.056},{"task":"Rest","channel":"C4","value":0.0028,"jitter":-0.034},{"task":"Rest","channel":"C4","value":0.0024,"jitter":-0.017},{"task":"Rest","channel":"C4","value":0.0009,"jitter":-0.022},{"task":"Rest","channel":"C4","value":-0.0006,"jitter":-0.020},{"task":"Rest","channel":"C4","value":-0.0015,"jitter":-0.009},{"task":"Rest","channel":"C4","value":-0.0015,"jitter":-0.047},{"task":"Rest","channel":"C4","value":-0.0023,"jitter":-0.052},{"task":"Rest","channel":"C4","value":-0.0029,"jitter":0.011},{"task":"Rest","channel":"C4","value":-0.0024,"jitter":0.025},{"task":"Rest","channel":"C4","value":-0.0037,"jitter":0.027},{"task":"Rest","channel":"C4","value":-0.0037,"jitter":-0.028},{"task":"Rest","channel":"C4","value":-0.0037,"jitter":-0.015},{"task":"Rest","channel":"C4","value":-0.0043,"jitter":-0.042},{"task":"Rest","channel":"C4","value":-0.0044,"jitter":0.011},{"task":"Rest","channel":"C4","value":-0.0046,"jitter":0.019},{"task":"Rest","channel":"C4","value":-0.0056,"jitter":0.018},{"task":"Rest","channel":"C4","value":-0.0052,"jitter":0.057},{"task":"Rest","channel":"C4","value":-0.0054,"jitter":-0.021},{"task":"Rest","channel":"C4","value":-0.0064,"jitter":0.013},{"task":"Rest","channel":"C4","value":-0.0063,"jitter":0.027},{"task":"Rest","channel":"C4","value":-0.0069,"jitter":0.019},{"task":"Rest","channel":"C4","value":-0.0075,"jitter":-0.040},{"task":"Rest","channel":"C4","value":-0.0083,"jitter":-0.009},{"task":"Rest","channel":"C4","value":-0.0090,"jitter":-0.004},{"task":"Rest","channel":"C4","value":-0.0095,"jitter":-0.094},{"task":"Rest","channel":"C4","value":-0.0095,"jitter":-0.076},{"task":"Rest","channel":"C4","value":-0.0097,"jitter":-0.035},{"task":"Rest","channel":"C4","value":-0.0099,"jitter":0.007},{"task":"Rest","channel":"C4","value":-0.0116,"jitter":-0.069},{"task":"Rest","channel":"C4","value":-0.0114,"jitter":-0.022},{"task":"Rest","channel":"C4","value":-0.0116,"jitter":-0.005},{"task":"Rest","channel":"C4","value":-0.0112,"jitter":0.008},{"task":"Rest","channel":"C4","value":-0.0143,"jitter":0.012},{"task":"Rest","channel":"C4","value":-0.0141,"jitter":0.026},{"task":"Rest","channel":"C4","value":-0.0161,"jitter":-0.045},{"task":"Rest","channel":"C4","value":-0.0164,"jitter":-0.027},{"task":"Rest","channel":"C4","value":-0.0164,"jitter":-0.024},{"task":"Rest","channel":"C4","value":-0.0166,"jitter":-0.010},{"task":"Rest","channel":"C4","value":-0.0197,"jitter":0.035},{"task":"Rest","channel":"C4","value":-0.0247,"jitter":0.001},{"task":"Rest","channel":"C4","value":-0.0010,"jitter":0.001},{"task":"Rest","channel":"C4","value":-0.0104,"jitter":-0.002},{"task":"Rest","channel":"C4","value":-0.0080,"jitter":0.006},{"task":"Rest","channel":"C4","value":0.0114,"jitter":-0.035},
      {"task":"Rest","channel":"Cz","value":0.0395,"jitter":0.034},{"task":"Rest","channel":"Cz","value":0.0297,"jitter":0.003},{"task":"Rest","channel":"Cz","value":0.0290,"jitter":0.049},{"task":"Rest","channel":"Cz","value":0.0251,"jitter":0.015},{"task":"Rest","channel":"Cz","value":0.0240,"jitter":-0.014},{"task":"Rest","channel":"Cz","value":0.0235,"jitter":-0.031},{"task":"Rest","channel":"Cz","value":0.0228,"jitter":-0.045},{"task":"Rest","channel":"Cz","value":0.0224,"jitter":-0.021},{"task":"Rest","channel":"Cz","value":0.0218,"jitter":-0.016},{"task":"Rest","channel":"Cz","value":0.0214,"jitter":-0.076},{"task":"Rest","channel":"Cz","value":0.0224,"jitter":0.065},{"task":"Rest","channel":"Cz","value":0.0211,"jitter":0.020},{"task":"Rest","channel":"Cz","value":0.0205,"jitter":0.018},{"task":"Rest","channel":"Cz","value":0.0193,"jitter":0.017},{"task":"Rest","channel":"Cz","value":0.0183,"jitter":0.010},{"task":"Rest","channel":"Cz","value":0.0168,"jitter":-0.051},{"task":"Rest","channel":"Cz","value":0.0162,"jitter":-0.009},{"task":"Rest","channel":"Cz","value":0.0157,"jitter":-0.030},{"task":"Rest","channel":"Cz","value":0.0154,"jitter":-0.016},{"task":"Rest","channel":"Cz","value":0.0139,"jitter":0.017},{"task":"Rest","channel":"Cz","value":0.0142,"jitter":0.040},{"task":"Rest","channel":"Cz","value":0.0119,"jitter":-0.041},{"task":"Rest","channel":"Cz","value":0.0122,"jitter":-0.021},{"task":"Rest","channel":"Cz","value":0.0119,"jitter":-0.017},{"task":"Rest","channel":"Cz","value":0.0111,"jitter":-0.003},{"task":"Rest","channel":"Cz","value":0.0105,"jitter":0.006},{"task":"Rest","channel":"Cz","value":0.0083,"jitter":0.006},{"task":"Rest","channel":"Cz","value":0.0071,"jitter":-0.004},{"task":"Rest","channel":"Cz","value":0.0069,"jitter":0.033},{"task":"Rest","channel":"Cz","value":0.0063,"jitter":0.027},{"task":"Rest","channel":"Cz","value":0.0055,"jitter":-0.028},{"task":"Rest","channel":"Cz","value":0.0053,"jitter":-0.021},{"task":"Rest","channel":"Cz","value":0.0056,"jitter":-0.008},{"task":"Rest","channel":"Cz","value":0.0056,"jitter":0.015},{"task":"Rest","channel":"Cz","value":0.0048,"jitter":0.020},{"task":"Rest","channel":"Cz","value":0.0045,"jitter":0.010},{"task":"Rest","channel":"Cz","value":0.0051,"jitter":0.058},{"task":"Rest","channel":"Cz","value":0.0039,"jitter":-0.019},{"task":"Rest","channel":"Cz","value":0.0030,"jitter":-0.003},{"task":"Rest","channel":"Cz","value":0.0024,"jitter":0.040},{"task":"Rest","channel":"Cz","value":0.0011,"jitter":-0.067},{"task":"Rest","channel":"Cz","value":0.0011,"jitter":-0.053},{"task":"Rest","channel":"Cz","value":0.0013,"jitter":-0.050},{"task":"Rest","channel":"Cz","value":0.0007,"jitter":-0.020},{"task":"Rest","channel":"Cz","value":0.0007,"jitter":0.033},{"task":"Rest","channel":"Cz","value":-0.0001,"jitter":-0.014},{"task":"Rest","channel":"Cz","value":-0.0008,"jitter":-0.003},{"task":"Rest","channel":"Cz","value":-0.0008,"jitter":0.024},{"task":"Rest","channel":"Cz","value":-0.0010,"jitter":0.048},{"task":"Rest","channel":"Cz","value":-0.0021,"jitter":0.053},{"task":"Rest","channel":"Cz","value":-0.0020,"jitter":0.005},{"task":"Rest","channel":"Cz","value":-0.0038,"jitter":-0.004},{"task":"Rest","channel":"Cz","value":-0.0037,"jitter":0.034},{"task":"Rest","channel":"Cz","value":-0.0042,"jitter":0.041},{"task":"Rest","channel":"Cz","value":-0.0048,"jitter":0.074},{"task":"Rest","channel":"Cz","value":-0.0060,"jitter":-0.045},{"task":"Rest","channel":"Cz","value":-0.0056,"jitter":-0.018},{"task":"Rest","channel":"Cz","value":-0.0053,"jitter":-0.007},{"task":"Rest","channel":"Cz","value":-0.0059,"jitter":0.013},{"task":"Rest","channel":"Cz","value":-0.0063,"jitter":0.026},{"task":"Rest","channel":"Cz","value":-0.0076,"jitter":-0.017},{"task":"Rest","channel":"Cz","value":-0.0070,"jitter":0.007},{"task":"Rest","channel":"Cz","value":-0.0075,"jitter":0.020},{"task":"Rest","channel":"Cz","value":-0.0069,"jitter":0.064},{"task":"Rest","channel":"Cz","value":-0.0083,"jitter":-0.070},{"task":"Rest","channel":"Cz","value":-0.0091,"jitter":-0.041},{"task":"Rest","channel":"Cz","value":-0.0079,"jitter":-0.013},{"task":"Rest","channel":"Cz","value":-0.0087,"jitter":0.031},{"task":"Rest","channel":"Cz","value":-0.0093,"jitter":0.024},{"task":"Rest","channel":"Cz","value":-0.0103,"jitter":-0.021},{"task":"Rest","channel":"Cz","value":-0.0107,"jitter":-0.006},{"task":"Rest","channel":"Cz","value":-0.0103,"jitter":0.006},{"task":"Rest","channel":"Cz","value":-0.0125,"jitter":-0.006},{"task":"Rest","channel":"Cz","value":-0.0132,"jitter":0.022},{"task":"Rest","channel":"Cz","value":-0.0138,"jitter":-0.052},{"task":"Rest","channel":"Cz","value":-0.0134,"jitter":-0.039},{"task":"Rest","channel":"Cz","value":-0.0132,"jitter":-0.032},{"task":"Rest","channel":"Cz","value":-0.0148,"jitter":-0.009},{"task":"Rest","channel":"Cz","value":-0.0161,"jitter":-0.009},{"task":"Rest","channel":"Cz","value":-0.0156,"jitter":0.002},{"task":"Rest","channel":"Cz","value":-0.0155,"jitter":0.014},{"task":"Rest","channel":"Cz","value":-0.0174,"jitter":-0.034},{"task":"Rest","channel":"Cz","value":-0.0173,"jitter":0.001},{"task":"Rest","channel":"Cz","value":-0.0175,"jitter":0.032},{"task":"Rest","channel":"Cz","value":-0.0198,"jitter":-0.027},{"task":"Rest","channel":"Cz","value":-0.0214,"jitter":-0.076},{"task":"Rest","channel":"Cz","value":-0.0235,"jitter":-0.007},{"task":"Rest","channel":"Cz","value":-0.0253,"jitter":0.005},{"task":"Rest","channel":"Cz","value":-0.0346,"jitter":-0.004}
    ],
    "summary": [
      {"task":"左腳","channel":"C3","mean":-0.0016,"lo":-0.0145,"hi":0.0114},
      {"task":"左腳","channel":"C4","mean":-0.0012,"lo":-0.0146,"hi":0.0123},
      {"task":"左腳","channel":"Cz","mean":0.0013,"lo":-0.0136,"hi":0.0163},
      {"task":"右腳","channel":"C3","mean":-0.0037,"lo":-0.0142,"hi":0.0068},
      {"task":"右腳","channel":"C4","mean":-0.0022,"lo":-0.0134,"hi":0.0090},
      {"task":"右腳","channel":"Cz","mean":0.0001,"lo":-0.0115,"hi":0.0118},
      {"task":"Rest","channel":"C3","mean":0.0017,"lo":-0.0091,"hi":0.0125},
      {"task":"Rest","channel":"C4","mean":0.0012,"lo":-0.0103,"hi":0.0126},
      {"task":"Rest","channel":"Cz","mean":0.0008,"lo":-0.0127,"hi":0.0144}
    ]
  },
  "resolve": {"scale": {"color": "shared"}},
  "layer": [
    {
      "data": {"name": "points"},
      "transform": [
        {"calculate": "indexof(['左腳','右腳','Rest'], datum.task) + (indexof(['C3','C4','Cz'], datum.channel) - 1) * 0.22 + datum.jitter", "as": "pos"}
      ],
      "mark": {"type": "circle", "size": 145, "opacity": 0.75, "stroke": "white", "strokeWidth": 0.8},
      "encoding": {
        "x": {"field": "pos", "type": "quantitative", "scale": {"domain": [-0.42, 2.42], "nice": false, "zero": false},
              "axis": {"values": [0, 1, 2], "labelExpr": "['左腳','右腳','Rest'][datum.value]", "title": null, "grid": false}},
        "y": {"field": "value", "type": "quantitative", "scale": {"domain": [-0.0415, 0.0476], "nice": false, "zero": false},
              "axis": {"values": [-0.04, -0.03, -0.02, -0.01, 0, 0.01, 0.02, 0.03, 0.04],
                       "labelExpr": "replace(format(datum.value, '.2f'), '\u2212', '-')",
                       "title": "Δ Normalized permutation entropy vs baseline", "grid": true}},
        "color": {"field": "channel", "type": "nominal",
                  "scale": {"domain": ["C3", "C4", "Cz"], "range": ["#2b7e74", "#cf4a6f", "#3c78dc"]},
                  "legend": {"title": "Channel", "orient": "top-right", "offset": 24}}
      }
    },
    {
      "data": {"name": "summary"},
      "transform": [
        {"calculate": "indexof(['左腳','右腳','Rest'], datum.task) + (indexof(['C3','C4','Cz'], datum.channel) - 1) * 0.22", "as": "pos"}
      ],
      "layer": [
        {
          "mark": {"type": "rule", "strokeWidth": 4},
          "encoding": {
            "x": {"field": "pos", "type": "quantitative"},
            "y": {"field": "lo", "type": "quantitative"},
            "y2": {"field": "hi"},
            "color": {"field": "channel", "type": "nominal", "legend": null}
          }
        },
        {
          "mark": {"type": "tick", "orient": "horizontal", "size": 26, "thickness": 3, "opacity": 1},
          "encoding": {
            "x": {"field": "pos", "type": "quantitative"},
            "y": {"field": "lo", "type": "quantitative"},
            "color": {"field": "channel", "type": "nominal", "legend": null}
          }
        },
        {
          "mark": {"type": "tick", "orient": "horizontal", "size": 26, "thickness": 3, "opacity": 1},
          "encoding": {
            "x": {"field": "pos", "type": "quantitative"},
            "y": {"field": "hi", "type": "quantitative"},
            "color": {"field": "channel", "type": "nominal", "legend": null}
          }
        },
        {
          "mark": {"type": "circle", "size": 330, "opacity": 1, "stroke": "#000000", "strokeWidth": 2.5},
          "encoding": {
            "x": {"field": "pos", "type": "quantitative"},
            "y": {"field": "mean", "type": "quantitative"},
            "color": {"field": "channel", "type": "nominal", "legend": null}
          }
        }
      ]
    }
  ],
  "config": {
    "font": "Open Sans, Noto Sans CJK TC, sans-serif",
    "view": {"stroke": "#000000", "strokeWidth": 2},
    "axis": {
      "domainColor": "#000000",
      "domainWidth": 2,
      "tickColor": "#000000",
      "tickWidth": 1.3,
      "tickSize": 8,
      "labelFontSize": 24,
      "labelColor": "#111111",
      "labelFont": "Open Sans, Noto Sans CJK TC, sans-serif",
      "titleFontSize": 25,
      "titleFontWeight": "normal",
      "titleColor": "#111111",
      "gridColor": "#dae4ee",
      "gridWidth": 1.2
    },
    "axisY": {"labelPadding": 8, "titlePadding": 14},
    "axisX": {"labelPadding": 5},
    "legend": {
      "titleFontSize": 25,
      "titleFontWeight": "normal",
      "titleColor": "#111111",
      "labelFontSize": 25,
      "labelColor": "#111111",
      "symbolType": "circle",
      "symbolSize": 150,
      "symbolOpacity": 0.75,
      "symbolStrokeWidth": 0,
      "rowPadding": 11.5,
      "titlePadding": 16,
      "labelOffset": 36,
      "symbolOffset": 5,
      "padding": 0
    }
  }
}
